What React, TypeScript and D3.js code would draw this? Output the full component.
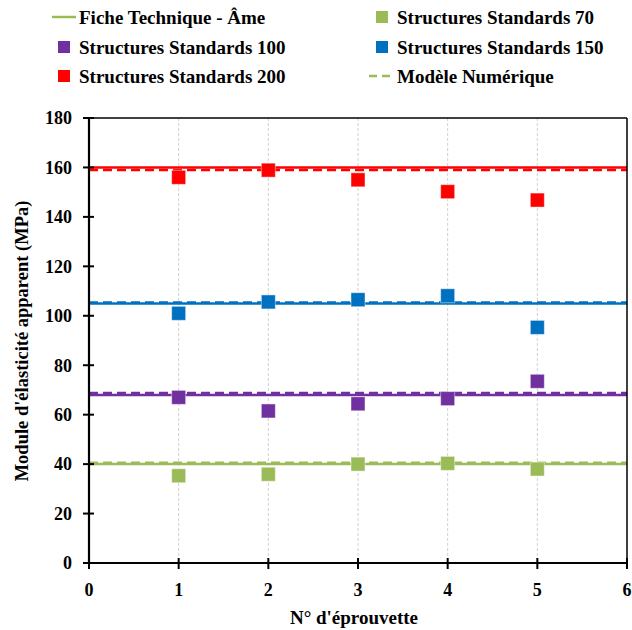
import React from "react";
import * as d3 from "d3";

const specimens = [1, 2, 3, 4, 5];
const series70 = [35.3, 35.9, 40.0, 40.3, 38.0];
const series100 = [67.0, 61.5, 64.4, 66.5, 73.5];
const series150 = [101.0, 105.6, 106.5, 108.1, 95.3];
const series200 = [156.0, 158.9, 155.0, 150.2, 146.8];
const ficheValues = [40, 68, 105, 160];
const modeleValues = [40.6, 68.8, 105.4, 159];
const lineColors = ["#9BBB59", "#7030A0", "#0070C0", "#FF0000"];
const xTicks = [0, 1, 2, 3, 4, 5, 6];
const yTicks = [0, 20, 40, 60, 80, 100, 120, 140, 160, 180];
const seriesNames = [
  "Structures Standards 70",
  "Structures Standards 100",
  "Structures Standards 150",
  "Structures Standards 200",
];
const legendFiche = "Fiche Technique - Âme";
const legendModele = "Modèle Numérique";
const xTitle = "N° d'éprouvette";
const yTitle = "Module d'élasticité apparent (MPa)";

const FONT = "'Liberation Serif', 'DejaVu Serif', serif";

export default function App() {
  const W = 632, H = 630;
  const left = 89, right = 627, top = 118, bottom = 563;
  const x = d3.scaleLinear().domain([0, 6]).range([left, right]);
  const y = d3.scaleLinear().domain([0, 180]).range([bottom, top]);
  const allSeries = [series70, series100, series150, series200];
  const ms = 14;

  const legendItems: { col: number; row: number; kind: string; color: string; label: string }[] = [
    { col: 0, row: 0, kind: "line", color: lineColors[0], label: legendFiche },
    { col: 1, row: 0, kind: "marker", color: lineColors[0], label: seriesNames[0] },
    { col: 0, row: 1, kind: "marker", color: lineColors[1], label: seriesNames[1] },
    { col: 1, row: 1, kind: "marker", color: lineColors[2], label: seriesNames[2] },
    { col: 0, row: 2, kind: "marker", color: lineColors[3], label: seriesNames[3] },
    { col: 1, row: 2, kind: "dash", color: lineColors[0], label: legendModele },
  ];
  const colX = [79, 397];
  const rowY = [17, 47, 76];

  return (
    <svg width={W} height={H} style={{ position: "absolute", left: 0, top: 0 }} fontFamily={FONT}>
      <rect x={0} y={0} width={W} height={H} fill="#fff" />
      {xTicks.slice(1, 6).map((t) => (
        <line key={"g" + t} x1={x(t)} x2={x(t)} y1={top} y2={bottom} stroke="#d0d0d0" strokeWidth={1} strokeDasharray="3,2" />
      ))}
      {ficheValues.map((v, i) => (
        <line key={"f" + i} x1={x(0)} x2={x(6)} y1={y(v)} y2={y(v)} stroke={lineColors[i]} strokeWidth={2.5} />
      ))}
      {modeleValues.map((v, i) => (
        <line key={"m" + i} x1={x(0)} x2={x(6)} y1={y(v)} y2={y(v)} stroke={lineColors[i]} strokeWidth={2.5} strokeDasharray="9,5" />
      ))}
      {allSeries.map((s, si) =>
        s.map((v, i) => (
          <rect key={si + "-" + i} x={x(specimens[i]) - ms / 2} y={y(v) - ms / 2} width={ms} height={ms}
            fill={lineColors[si]} stroke="rgba(255,255,255,0.45)" strokeWidth={1} />
        ))
      )}
      <line x1={left} x2={right} y1={top} y2={top} stroke="#000" strokeWidth={1.5} />
      <line x1={right} x2={right} y1={top} y2={bottom} stroke="#000" strokeWidth={1.5} />
      <line x1={left} x2={left} y1={top - 1} y2={bottom + 1} stroke="#000" strokeWidth={2.2} />
      <line x1={left - 1} x2={right + 1} y1={bottom} y2={bottom} stroke="#000" strokeWidth={2.2} />
      {yTicks.map((t) => (
        <g key={"y" + t}>
          <line x1={left - 6} x2={left + 5} y1={y(t)} y2={y(t)} stroke="#000" strokeWidth={2} />
          <text x={left - 17} y={y(t)} dy="0.35em" textAnchor="end" fontSize={18} fontWeight="bold">{t}</text>
        </g>
      ))}
      {xTicks.map((t) => (
        <g key={"x" + t}>
          <line x1={x(t)} x2={x(t)} y1={bottom - 5} y2={bottom + 6} stroke="#000" strokeWidth={2} />
          <text x={x(t)} y={bottom + 27} dy="0.35em" textAnchor="middle" fontSize={18} fontWeight="bold">{t}</text>
        </g>
      ))}
      <text x={354} y={617} dy="0.35em" textAnchor="middle" fontSize={19} fontWeight="bold">{xTitle}</text>
      <text transform={`translate(22,341) rotate(-90)`} dy="0.35em" textAnchor="middle" fontSize={18.5} fontWeight="bold">{yTitle}</text>
      {legendItems.map((it, i) => {
        const tx = colX[it.col];
        const ty = rowY[it.row];
        return (
          <g key={"l" + i}>
            {it.kind === "line" && <line x1={tx - 27} x2={tx - 3} y1={ty} y2={ty} stroke={it.color} strokeWidth={2.5} />}
            {it.kind === "dash" && <line x1={tx - 28} x2={tx - 4} y1={ty} y2={ty} stroke={it.color} strokeWidth={2.5} strokeDasharray="8,5" />}
            {it.kind === "marker" && <rect x={tx - 21} y={ty - 6} width={12} height={12} fill={it.color} />}
            <text x={tx} y={ty} dy="0.35em" fontSize={19} fontWeight="bold">{it.label}</text>
          </g>
        );
      })}
    </svg>
  );
}
